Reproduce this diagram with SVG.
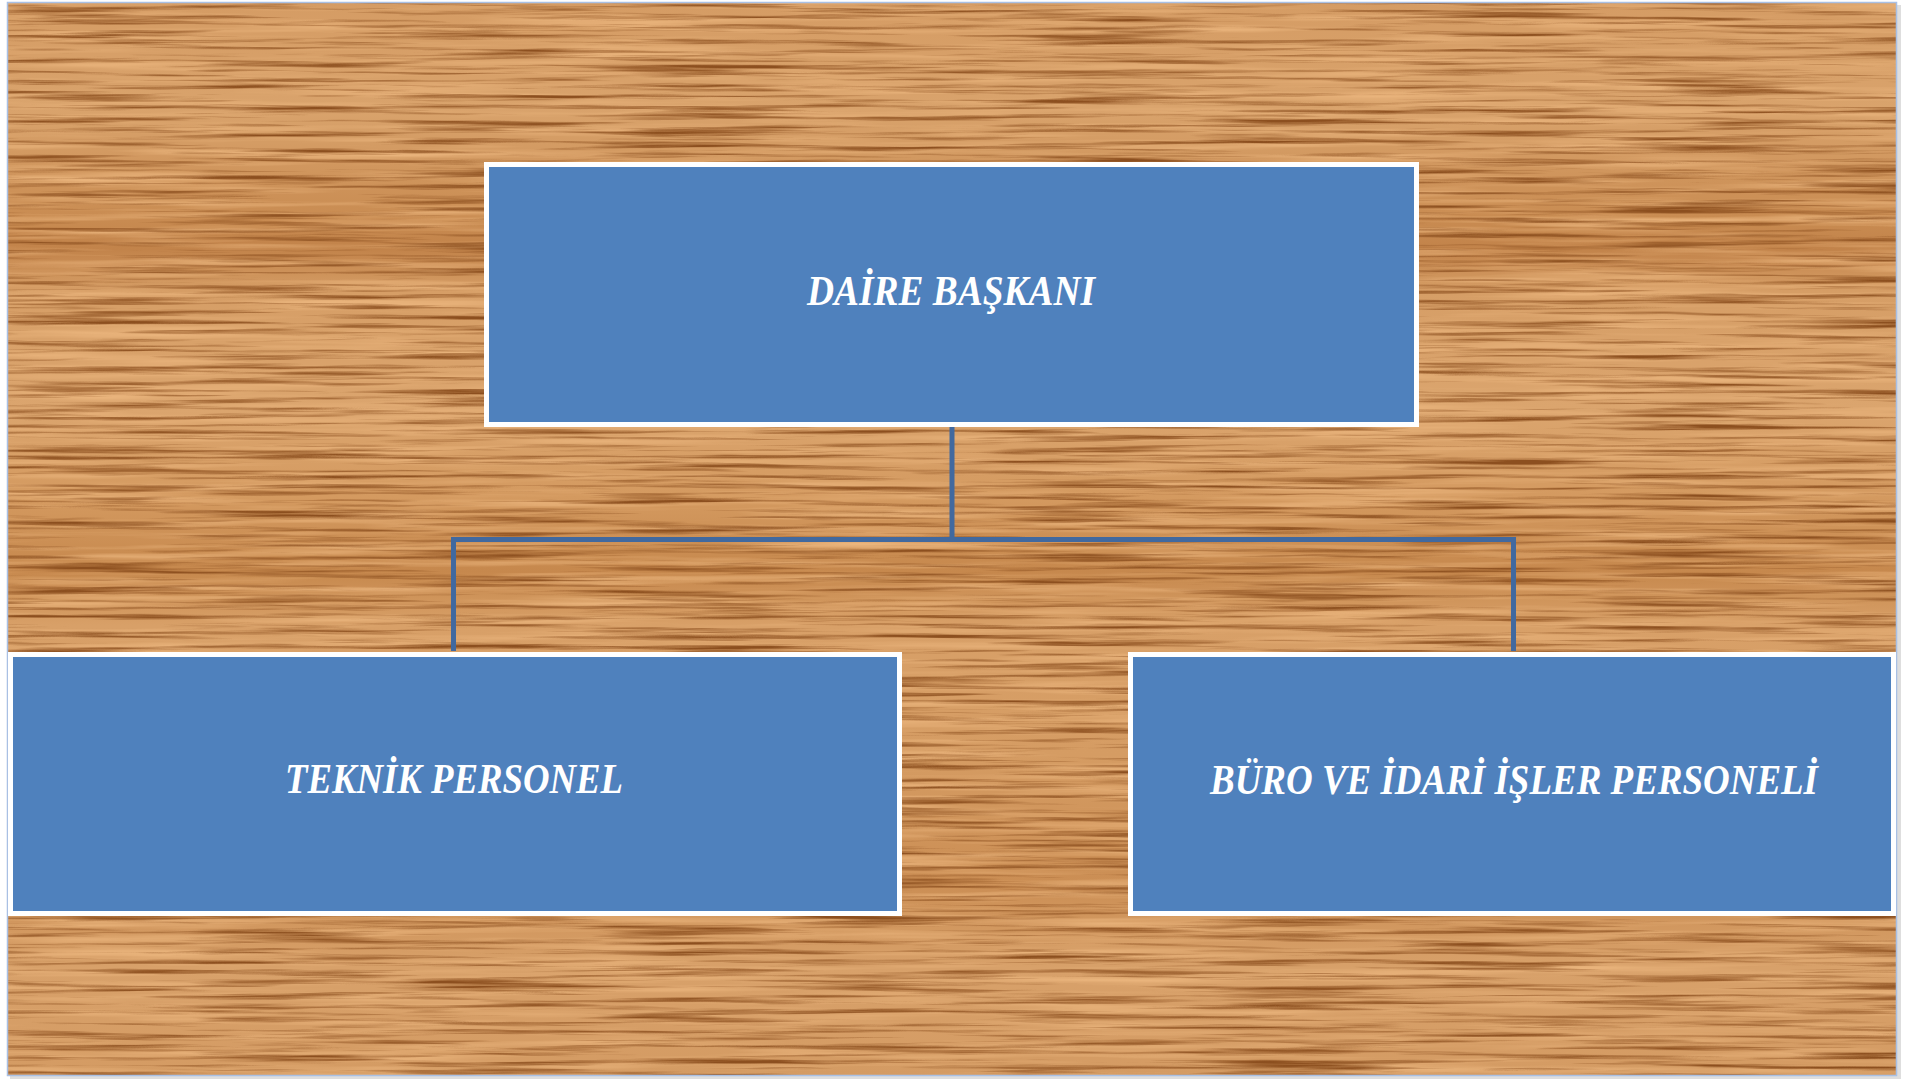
<svg xmlns="http://www.w3.org/2000/svg" width="1919" height="1080" viewBox="0 0 1919 1080">
<defs>
<linearGradient id="bands" x1="0" y1="0" x2="0" y2="1">
<stop offset="0" stop-color="#d59c64"/>
<stop offset="0.1" stop-color="#d9a36c"/>
<stop offset="0.2" stop-color="#c98c52"/>
<stop offset="0.23" stop-color="#c2834a"/>
<stop offset="0.27" stop-color="#d69e66"/>
<stop offset="0.38" stop-color="#dba56e"/>
<stop offset="0.46" stop-color="#d49a60"/>
<stop offset="0.53" stop-color="#c6884d"/>
<stop offset="0.58" stop-color="#d8a068"/>
<stop offset="0.7" stop-color="#d59c63"/>
<stop offset="0.82" stop-color="#cb8e54"/>
<stop offset="0.9" stop-color="#d8a16a"/>
<stop offset="1" stop-color="#d49b63"/>
</linearGradient>
<filter id="grain" x="0" y="0" width="100%" height="100%" color-interpolation-filters="sRGB">
<feTurbulence type="fractalNoise" baseFrequency="0.005 0.2" numOctaves="4" seed="7" result="n"/>
<feColorMatrix in="n" type="matrix" values="0 0 0 0 0.55  0 0 0 0 0.31  0 0 0 0 0.12  3 0 0 0 -1.45"/>
</filter>
<filter id="grainlight" x="0" y="0" width="100%" height="100%" color-interpolation-filters="sRGB">
<feTurbulence type="fractalNoise" baseFrequency="0.004 0.12" numOctaves="3" seed="21" result="n"/>
<feColorMatrix in="n" type="matrix" values="0 0 0 0 0.92  0 0 0 0 0.71  0 0 0 0 0.49  2.2 0 0 0 -1.0"/>
</filter>
<style>
.node rect{fill:#4f81bd;stroke:#ffffff;stroke-width:5}
.lbl{fill:#ffffff;text-anchor:middle;font-family:"Liberation Serif","Times New Roman",serif;font-weight:bold;font-style:italic;font-size:42px}
.conn{fill:none;stroke:#41699f;stroke-width:5;stroke-linejoin:miter}
</style>
</defs>
<rect x="0" y="0" width="1919" height="1080" fill="#ffffff"/>
<rect x="10" y="5" width="1891" height="1074" fill="#c8c8c8" opacity="0.6"/>
<g id="background">
<rect x="7" y="2" width="1890" height="1074" fill="url(#bands)"/>
<rect x="7" y="2" width="1890" height="1074" filter="url(#grainlight)"/>
<rect x="7" y="2" width="1890" height="1074" filter="url(#grain)"/>
<rect x="7.5" y="2.5" width="1889" height="1073" fill="none" stroke="#a9c0e4" stroke-width="1.5"/>
</g>
<g id="connectors">
<path class="conn" d="M952 427 V539.5"/>
<path class="conn" d="M453.5 651 V539.5 H1513.5 V651"/>
</g>
<g id="node-daire" class="node">
<rect x="486.5" y="164.5" width="930" height="260"/>
<text class="lbl" x="951" y="305" textLength="288" lengthAdjust="spacingAndGlyphs">DAİRE BAŞKANI</text>
</g>
<g id="node-teknik" class="node">
<rect x="10.5" y="654.5" width="889" height="259"/>
<text class="lbl" x="454" y="793" textLength="338" lengthAdjust="spacingAndGlyphs">TEKNİK PERSONEL</text>
</g>
<g id="node-buro" class="node">
<rect x="1130.5" y="654.5" width="763" height="259"/>
<text class="lbl" x="1514" y="794" textLength="608" lengthAdjust="spacingAndGlyphs">BÜRO VE İDARİ İŞLER PERSONELİ</text>
</g>
</svg>
